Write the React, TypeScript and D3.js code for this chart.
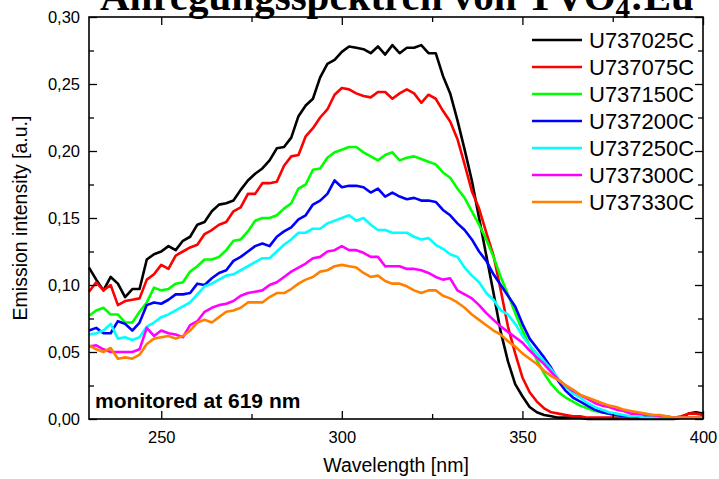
import React, { useEffect, useRef } from 'react';
import * as d3 from 'd3';

// excitation wavelengths [nm]
const wavelengths = [
  230, 232, 234, 236, 238, 240, 242, 244, 246, 248,
  250, 252, 254, 256, 258, 260, 262, 264, 266, 268,
  270, 272, 274, 276, 278, 280, 282, 284, 286, 288,
  290, 292, 294, 296, 298, 300, 302, 304, 306, 308,
  310, 312, 314, 316, 318, 320, 322, 324, 326, 328,
  330, 332, 334, 336, 338, 340, 342, 344, 346, 348,
  350, 352, 354, 356, 358, 360, 362, 364, 366, 368,
  370, 372, 374, 376, 378, 380, 382, 384, 386, 388,
  390, 392, 394, 396, 398, 400,
];

const u737025C = [
  0.113, 0.104, 0.096, 0.106, 0.101, 0.091, 0.097, 0.097, 0.119, 0.123,
  0.125, 0.129, 0.126, 0.133, 0.136, 0.145, 0.147, 0.155, 0.160, 0.161,
  0.163, 0.171, 0.178, 0.183, 0.187, 0.193, 0.202, 0.203, 0.210, 0.226,
  0.234, 0.239, 0.255, 0.265, 0.268, 0.274, 0.278, 0.277, 0.276, 0.273,
  0.278, 0.272, 0.279, 0.273, 0.277, 0.277, 0.279, 0.273, 0.273, 0.256,
  0.243, 0.223, 0.201, 0.178, 0.150, 0.122, 0.094, 0.065, 0.043, 0.026,
  0.017, 0.009, 0.005, 0.003, 0.002, 0.001, 0.001, 0.001, 0.001, 0.000,
  0.000, 0.000, 0.000, 0.000, 0.000, 0.000, 0.000, 0.000, 0.000, 0.000,
  0.000, 0.000, 0.001, 0.004, 0.005, 0.004,
];

const u737075C = [
  0.095, 0.102, 0.096, 0.100, 0.085, 0.088, 0.089, 0.090, 0.104, 0.108,
  0.115, 0.112, 0.122, 0.125, 0.128, 0.130, 0.138, 0.141, 0.145, 0.147,
  0.155, 0.158, 0.168, 0.168, 0.176, 0.176, 0.177, 0.189, 0.196, 0.197,
  0.211, 0.217, 0.225, 0.231, 0.242, 0.247, 0.246, 0.243, 0.241, 0.240,
  0.244, 0.244, 0.239, 0.243, 0.246, 0.243, 0.236, 0.242, 0.239, 0.230,
  0.222, 0.209, 0.190, 0.170, 0.157, 0.139, 0.122, 0.096, 0.069, 0.049,
  0.031, 0.020, 0.013, 0.008, 0.005, 0.004, 0.003, 0.002, 0.002, 0.001,
  0.001, 0.001, 0.001, 0.001, 0.001, 0.001, 0.001, 0.001, 0.001, 0.001,
  0.001, 0.001, 0.002, 0.004, 0.004, 0.003,
];

const u737150C = [
  0.077, 0.081, 0.083, 0.078, 0.078, 0.072, 0.072, 0.080, 0.087, 0.098,
  0.096, 0.097, 0.101, 0.102, 0.110, 0.114, 0.119, 0.119, 0.121, 0.126,
  0.133, 0.134, 0.140, 0.148, 0.150, 0.150, 0.152, 0.157, 0.161, 0.172,
  0.175, 0.186, 0.187, 0.195, 0.199, 0.201, 0.203, 0.203, 0.199, 0.196,
  0.193, 0.197, 0.199, 0.193, 0.195, 0.196, 0.194, 0.192, 0.190, 0.184,
  0.180, 0.172, 0.165, 0.155, 0.145, 0.134, 0.121, 0.106, 0.093, 0.079,
  0.066, 0.055, 0.044, 0.034, 0.026, 0.020, 0.016, 0.013, 0.010, 0.008,
  0.006, 0.005, 0.004, 0.003, 0.002, 0.002, 0.001, 0.001, 0.001, 0.001,
  0.001, 0.001, 0.001, 0.001, 0.001, 0.001,
];

const u737200C = [
  0.066, 0.068, 0.064, 0.064, 0.073, 0.071, 0.066, 0.072, 0.085, 0.087,
  0.086, 0.089, 0.093, 0.093, 0.094, 0.101, 0.100, 0.105, 0.109, 0.111,
  0.118, 0.121, 0.125, 0.129, 0.131, 0.129, 0.136, 0.140, 0.143, 0.149,
  0.152, 0.160, 0.163, 0.168, 0.178, 0.173, 0.174, 0.174, 0.173, 0.169,
  0.172, 0.166, 0.169, 0.166, 0.164, 0.165, 0.163, 0.163, 0.162, 0.156,
  0.152, 0.146, 0.141, 0.134, 0.125, 0.118, 0.108, 0.100, 0.092, 0.084,
  0.071, 0.060, 0.053, 0.046, 0.038, 0.028, 0.021, 0.016, 0.013, 0.010,
  0.007, 0.005, 0.004, 0.003, 0.002, 0.002, 0.001, 0.001, 0.001, 0.001,
  0.001, 0.001, 0.001, 0.001, 0.001, 0.001,
];

const u737250C = [
  0.063, 0.064, 0.066, 0.071, 0.060, 0.061, 0.059, 0.061, 0.069, 0.072,
  0.076, 0.078, 0.081, 0.084, 0.087, 0.093, 0.099, 0.101, 0.104, 0.107,
  0.108, 0.111, 0.114, 0.117, 0.120, 0.120, 0.125, 0.130, 0.134, 0.139,
  0.139, 0.142, 0.142, 0.146, 0.148, 0.150, 0.152, 0.148, 0.150, 0.145,
  0.141, 0.141, 0.139, 0.139, 0.139, 0.136, 0.134, 0.135, 0.130, 0.127,
  0.123, 0.121, 0.113, 0.107, 0.102, 0.094, 0.089, 0.081, 0.078, 0.071,
  0.062, 0.055, 0.049, 0.043, 0.037, 0.030, 0.024, 0.019, 0.016, 0.012,
  0.009, 0.007, 0.005, 0.004, 0.003, 0.002, 0.002, 0.001, 0.001, 0.001,
  0.001, 0.001, 0.001, 0.001, 0.001, 0.001,
];

const u737300C = [
  0.054, 0.055, 0.052, 0.050, 0.050, 0.050, 0.050, 0.052, 0.068, 0.062,
  0.066, 0.064, 0.063, 0.061, 0.070, 0.073, 0.080, 0.083, 0.085, 0.086,
  0.088, 0.092, 0.094, 0.095, 0.096, 0.100, 0.102, 0.106, 0.110, 0.113,
  0.116, 0.120, 0.121, 0.125, 0.126, 0.129, 0.126, 0.126, 0.124, 0.121,
  0.121, 0.114, 0.114, 0.114, 0.112, 0.112, 0.111, 0.109, 0.106, 0.104,
  0.105, 0.096, 0.093, 0.090, 0.085, 0.079, 0.074, 0.069, 0.065, 0.061,
  0.057, 0.051, 0.046, 0.041, 0.035, 0.029, 0.025, 0.021, 0.018, 0.015,
  0.012, 0.010, 0.009, 0.007, 0.006, 0.004, 0.004, 0.003, 0.003, 0.002,
  0.002, 0.001, 0.001, 0.001, 0.001, 0.001,
];

const u737330C = [
  0.055, 0.052, 0.050, 0.053, 0.045, 0.046, 0.045, 0.048, 0.056, 0.060,
  0.061, 0.062, 0.060, 0.062, 0.066, 0.072, 0.074, 0.072, 0.076, 0.080,
  0.081, 0.083, 0.087, 0.087, 0.087, 0.091, 0.094, 0.094, 0.097, 0.101,
  0.104, 0.106, 0.110, 0.111, 0.114, 0.115, 0.114, 0.113, 0.109, 0.106,
  0.107, 0.103, 0.101, 0.101, 0.099, 0.096, 0.094, 0.096, 0.096, 0.092,
  0.090, 0.087, 0.083, 0.078, 0.074, 0.070, 0.066, 0.063, 0.058, 0.054,
  0.049, 0.045, 0.041, 0.036, 0.032, 0.029, 0.025, 0.022, 0.018, 0.016,
  0.014, 0.012, 0.010, 0.009, 0.007, 0.006, 0.005, 0.004, 0.003, 0.003,
  0.002, 0.001, 0.001, 0.001, 0.001, 0.001,
];

const seriesNames = ['U737025C', 'U737075C', 'U737150C', 'U737200C', 'U737250C', 'U737300C', 'U737330C'];
const seriesValues = [u737025C, u737075C, u737150C, u737200C, u737250C, u737300C, u737330C];
const seriesColors = ['#000000', '#ff0000', '#00ff00', '#0000ff', '#00ffff', '#ff00ff', '#ff8000'];

const xTicks = [250, 300, 350, 400];
const xMinorTicks = [275, 325, 375];
const yTicks = [0, 0.05, 0.1, 0.15, 0.2, 0.25, 0.3];
const yMinorTicks = [0.025, 0.075, 0.125, 0.175, 0.225, 0.275];

const FONT = '"Liberation Sans", Arial, sans-serif';

const App = () => {
  const svgRef = useRef<SVGSVGElement>(null);

  useEffect(() => {
    const width = 719, height = 479;
    const margin = { top: 17, right: 16, bottom: 60, left: 89 };

    const svg = d3.select(svgRef.current);
    svg.selectAll('*').remove();

    const x = d3.scaleLinear()
      .domain([230, 400])
      .range([margin.left, width - margin.right]);

    const y = d3.scaleLinear()
      .domain([0, 0.3])
      .range([height - margin.bottom, margin.top]);

    const comma = (d: number) => d3.format('.2f')(d).replace('.', ',');

    // curves
    const line = d3.line<number>()
      .x((d, i) => x(wavelengths[i]))
      .y(d => y(d));

    seriesValues.forEach((vals, i) => {
      svg.append('path')
        .datum(vals)
        .attr('fill', 'none')
        .attr('stroke', seriesColors[i])
        .attr('stroke-width', 2.6)
        .attr('stroke-linejoin', 'round')
        .attr('d', line);
    });

    // axes: all ticks point inward
    const styleAxis = (g, labels) => {
      g.select('.domain').remove();
      g.selectAll('line').attr('stroke', '#000').attr('stroke-width', 1.3);
      if (labels) {
        g.selectAll('text')
          .attr('font-family', FONT)
          .attr('font-size', 16.5)
          .attr('fill', '#000');
      } else {
        g.selectAll('text').remove();
      }
    };

    const bottom = y(0), top = y(0.3), left = x(230), right = x(400);

    svg.append('g').attr('transform', `translate(${left},0)`)
      .call(d3.axisLeft(y).tickValues(yTicks).tickSize(-8).tickPadding(9).tickFormat(comma))
      .call(g => styleAxis(g, true));
    svg.append('g').attr('transform', `translate(${left},0)`)
      .call(d3.axisLeft(y).tickValues(yMinorTicks).tickSize(-5))
      .call(g => styleAxis(g, false));
    svg.append('g').attr('transform', `translate(${right},0)`)
      .call(d3.axisRight(y).tickValues(yTicks).tickSize(-8))
      .call(g => styleAxis(g, false));
    svg.append('g').attr('transform', `translate(${right},0)`)
      .call(d3.axisRight(y).tickValues(yMinorTicks).tickSize(-5))
      .call(g => styleAxis(g, false));

    svg.append('g').attr('transform', `translate(0,${bottom})`)
      .call(d3.axisBottom(x).tickValues(xTicks).tickSize(-8).tickPadding(12).tickFormat(d3.format('d')))
      .call(g => styleAxis(g, true));
    svg.append('g').attr('transform', `translate(0,${bottom})`)
      .call(d3.axisBottom(x).tickValues(xMinorTicks).tickSize(-5))
      .call(g => styleAxis(g, false));
    svg.append('g').attr('transform', `translate(0,${top})`)
      .call(d3.axisTop(x).tickValues(xTicks).tickSize(-8))
      .call(g => styleAxis(g, false));
    svg.append('g').attr('transform', `translate(0,${top})`)
      .call(d3.axisTop(x).tickValues(xMinorTicks).tickSize(-5))
      .call(g => styleAxis(g, false));

    // frame
    svg.append('rect')
      .attr('x', left)
      .attr('y', top)
      .attr('width', right - left)
      .attr('height', bottom - top)
      .attr('fill', 'none')
      .attr('stroke', '#000')
      .attr('stroke-width', 1.6);

    // axis titles
    svg.append('text')
      .attr('x', (left + right) / 2)
      .attr('y', 472)
      .attr('text-anchor', 'middle')
      .attr('font-family', FONT)
      .attr('font-size', 19.5)
      .text('Wavelength [nm]');

    svg.append('text')
      .attr('transform', `translate(27,${(top + bottom) / 2}) rotate(-90)`)
      .attr('text-anchor', 'middle')
      .attr('font-family', FONT)
      .attr('font-size', 19.5)
      .text('Emission intensity [a.u.]');

    // note
    svg.append('text')
      .attr('x', 95)
      .attr('y', 408)
      .attr('font-family', FONT)
      .attr('font-weight', 'bold')
      .attr('font-size', 21)
      .text('monitored at 619 nm');

    // title (cut by the top edge)
    const title = svg.append('text')
      .attr('x', 100)
      .attr('y', 10)
      .attr('font-family', '"Liberation Serif", "Times New Roman", serif')
      .attr('font-weight', 'bold')
      .attr('font-size', 41);
    title.append('tspan').text('Anregungsspektren von YVO');
    title.append('tspan').attr('font-size', 29).attr('dy', 8).text('4');
    title.append('tspan').attr('dy', -8).text(':Eu');

    // legend
    const legend = svg.append('g');
    seriesNames.forEach((name, i) => {
      const ly = 40 + i * 27;
      legend.append('line')
        .attr('x1', 532).attr('x2', 582)
        .attr('y1', ly).attr('y2', ly)
        .attr('stroke', seriesColors[i])
        .attr('stroke-width', 2.6);
      legend.append('text')
        .attr('x', 589)
        .attr('y', ly)
        .attr('dy', '0.36em')
        .attr('font-family', FONT)
        .attr('font-size', 22)
        .text(name);
    });
  }, []);

  return (
    <svg
      ref={svgRef}
      width={719}
      height={479}
      style={{ position: 'absolute', left: 0, top: 0, background: 'white' }}
    />
  );
};

export default App;
